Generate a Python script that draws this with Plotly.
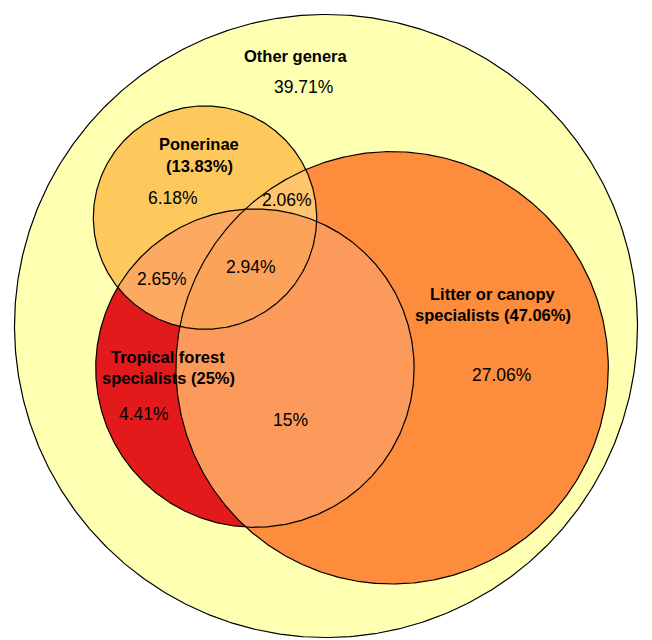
import numpy as np
import plotly.graph_objects as go

# ---- data ----
set_names = ["Other genera", "Ponerinae", "Tropical forest specialists", "Litter or canopy specialists"]
set_pcts = [None, "13.83%", "25%", "47.06%"]
region_names = ["Other only", "Ponerinae only", "Ponerinae & Litter", "Ponerinae & Tropical",
                "All three", "Tropical only", "Tropical & Litter", "Litter only"]
region_pcts = ["39.71%", "6.18%", "2.06%", "2.65%", "2.94%", "4.41%", "15%", "27.06%"]
set_label_lines = ["Other genera", "Ponerinae", "(13.83%)", "Tropical forest", "specialists (25%)",
                   "Litter or canopy", "specialists (47.06%)"]

# ---- layout (pixel coordinates, y downward) ----
circles = {  # cx, cy, r
    "O": (326, 326, 311.5),
    "P": (205, 217.6, 111.7),
    "T": (254.9, 368.1, 159.2),
    "L": (392.1, 367.8, 216.2),
}
colors = {
    "O": "#FFFFB2", "P": "#FEC95C", "T": "#E31A1C", "L": "#FD8D3C",
    "TL": "#FB9A5A", "PL": "#FEC56E", "PT": "#FCAA62", "PTL": "#FCA35A",
}
set_label_pos = [(296, 56), (199, 144.3), (199, 165.7), (168, 357.3), (168, 378.3),
                 (493.3, 294), (493.3, 315)]
region_label_pos = [(303.3, 87.3), (172.7, 198.3), (286.7, 200), (161.7, 279),
                    (251, 267.3), (144.3, 414), (290, 420), (501.7, 375)]


def circ_poly(key, n=720):
    cx, cy, r = circles[key]
    t = np.linspace(0, 2 * np.pi, n, endpoint=False)
    return list(zip(cx + r * np.cos(t), cy + r * np.sin(t)))


def clip(subject, clipper):
    cxm = np.mean([p[0] for p in clipper]); cym = np.mean([p[1] for p in clipper])
    out = subject
    n = len(clipper)
    for i in range(n):
        a = clipper[i]; b = clipper[(i + 1) % n]
        ex, ey = b[0] - a[0], b[1] - a[1]
        ref = ex * (cym - a[1]) - ey * (cxm - a[0])

        def side(p):
            return (ex * (p[1] - a[1]) - ey * (p[0] - a[0])) * np.sign(ref)

        inp = out
        out = []
        if not inp:
            break
        m = len(inp)
        for j in range(m):
            cur = inp[j]; prev = inp[j - 1]
            sc, sp = side(cur), side(prev)
            if sc >= 0:
                if sp < 0:
                    t = sp / (sp - sc)
                    out.append((prev[0] + t * (cur[0] - prev[0]), prev[1] + t * (cur[1] - prev[1])))
                out.append(cur)
            elif sp >= 0:
                t = sp / (sp - sc)
                out.append((prev[0] + t * (cur[0] - prev[0]), prev[1] + t * (cur[1] - prev[1])))
    return out


fig = go.Figure()


def add_fill(poly, color):
    xs = [p[0] for p in poly] + [poly[0][0]]
    ys = [p[1] for p in poly] + [poly[0][1]]
    fig.add_trace(go.Scatter(x=xs, y=ys, mode="lines", fill="toself", fillcolor=color,
                             line=dict(width=0, color=color), hoverinfo="skip", showlegend=False))


polys = {k: circ_poly(k) for k in circles}
for k in ["O", "L", "T", "P"]:
    add_fill(polys[k], colors[k])
add_fill(clip(polys["T"], polys["L"]), colors["TL"])
add_fill(clip(polys["P"], polys["L"]), colors["PL"])
add_fill(clip(polys["P"], polys["T"]), colors["PT"])
add_fill(clip(clip(polys["P"], polys["T"]), polys["L"]), colors["PTL"])

for k in ["O", "L", "T", "P"]:
    poly = polys[k]
    xs = [p[0] for p in poly] + [poly[0][0]]
    ys = [p[1] for p in poly] + [poly[0][1]]
    fig.add_trace(go.Scatter(x=xs, y=ys, mode="lines", line=dict(width=1.2, color="black"),
                             hoverinfo="skip", showlegend=False))

FONT = "Liberation Sans, Arial, sans-serif"
for txt, (x, y) in zip(set_label_lines, set_label_pos):
    fig.add_annotation(x=x, y=y, text="<b>" + txt + "</b>", showarrow=False,
                       font=dict(family=FONT, size=16.5, color="black"))
for txt, (x, y) in zip(region_pcts, region_label_pos):
    fig.add_annotation(x=x, y=y, text=txt, showarrow=False,
                       font=dict(family=FONT, size=17.5, color="black"))

fig.update_layout(
    width=652, height=640, margin=dict(l=0, r=0, t=0, b=0),
    paper_bgcolor="white", plot_bgcolor="white",
    xaxis=dict(range=[0, 652], visible=False, fixedrange=True),
    yaxis=dict(range=[640, 0], visible=False, fixedrange=True),
    showlegend=False,
)
fig.write_html("out.html", config={"displayModeBar": False},
               post_script="document.body.style.margin='0';document.body.style.padding='0';")
